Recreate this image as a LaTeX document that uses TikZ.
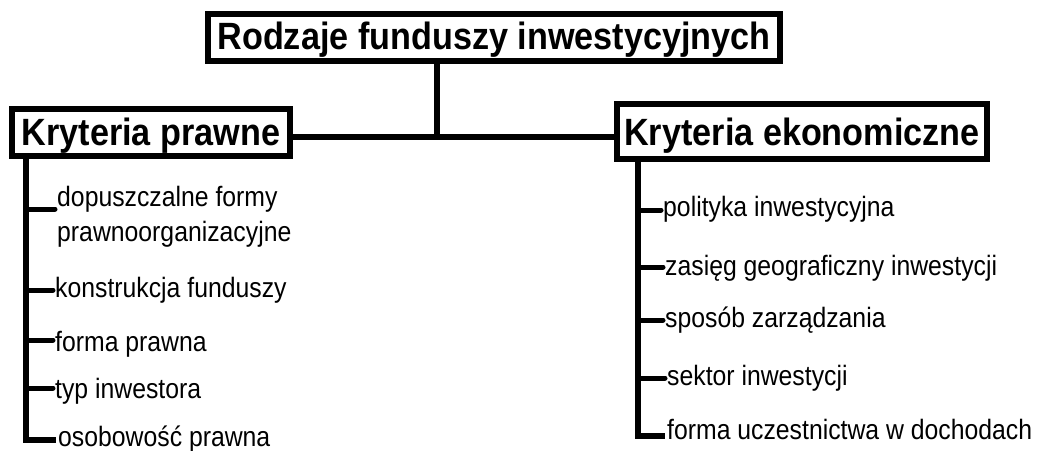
\documentclass[tikz,border=0pt]{standalone}
\usepackage{fontspec}
\setmainfont{Liberation Sans}
% condensed cuts of the sans face for headings and list entries
\newfontfamily\headfont{Liberation Sans}[FakeStretch=0.9]
\newfontfamily\itemfont{Liberation Sans}[FakeStretch=0.885]
\begin{document}
\begin{tikzpicture}[x=1pt,y=-1pt,
  hdr/.style={draw=black, line width=6pt, inner sep=0pt, fill=white, text depth=8pt,
    font=\headfont\bfseries\fontsize{38}{38}\selectfont},
  item/.style={anchor=base west, inner sep=0pt, font=\itemfont\fontsize{28}{30}\selectfont},
  link/.style={line width=6pt},
  trunk/.style={line width=6.5pt, line join=miter},
  stub/.style={line width=5pt, line cap=round}]
\useasboundingbox (0,0) rectangle (1039,450);

% headings
\node[hdr, minimum width=572pt, minimum height=47pt, text height=31pt] (root) at (494,37.5)
  {Rodzaje funduszy inwestycyjnych};
\node[hdr, minimum width=278pt, minimum height=47pt, text height=33pt] (prawne) at (151,132.5)
  {Kryteria prawne};
\node[hdr, minimum width=370pt, minimum height=55pt, text height=36pt] (eko) at (802,131.5)
  {Kryteria ekonomiczne};

% links between headings
\coordinate (j) at (437,137);
\draw[link] (root.south -| j) -- (j);
\draw[link] ([yshift=-4.5pt]prawne.east) -- ([yshift=-5.5pt]eko.west);

% legal criteria
\coordinate (tL) at (26,0);
\node[item] (dop)   at (57,206)   {dopuszczalne formy};
\node[item] (dop2)  at (57,241.5) {prawnoorganizacyjne};
\node[item] (kon)   at (55,297)   {konstrukcja funduszy};
\node[item] (forma) at (55,351)   {forma prawna};
\node[item] (typ)   at (55,398)   {typ inwestora};
\node[item] (osob)  at (58,446)   {osobowość prawna};

\draw[trunk] (prawne.south -| tL) -- ([yshift=6pt]osob.base west -| tL)
  -- ([yshift=6pt,xshift=-2pt]osob.base west);
\draw[stub] ([yshift=-3pt]dop.base west -| tL) -- ([yshift=-3pt,xshift=-2pt]dop.base west);
\draw[stub] ([yshift=7pt]kon.base west -| tL) -- ([yshift=7pt,xshift=-2pt]kon.base west);
\draw[stub] ([yshift=11pt]forma.base west -| tL) -- ([yshift=11pt,xshift=-2pt]forma.base west);
\draw[stub] ([yshift=10pt]typ.base west -| tL) -- ([yshift=10pt,xshift=-2pt]typ.base west);

% economic criteria
\coordinate (tR) at (638,0);
\node[item] (pol) at (663,216) {polityka inwestycyjna};
\node[item] (zas) at (665,275) {zasięg geograficzny inwestycji};
\node[item] (spo) at (665,327) {sposób zarządzania};
\node[item] (sek) at (667,385) {sektor inwestycji};
\node[item] (ucz) at (667,439) {forma uczestnictwa w dochodach};

\draw[trunk] (eko.south -| tR) -- ([yshift=3pt]ucz.base west -| tR)
  -- ([yshift=3pt,xshift=-2pt]ucz.base west);
\draw[stub] ([yshift=6pt]pol.base west -| tR) -- ([yshift=6pt,xshift=-2pt]pol.base west);
\draw[stub] ([yshift=8pt]zas.base west -| tR) -- ([yshift=8pt,xshift=-2pt]zas.base west);
\draw[stub] ([yshift=7pt]spo.base west -| tR) -- ([yshift=7pt,xshift=-2pt]spo.base west);
\draw[stub] ([yshift=7pt]sek.base west -| tR) -- ([yshift=7pt,xshift=-2pt]sek.base west);
\end{tikzpicture}
\end{document}
